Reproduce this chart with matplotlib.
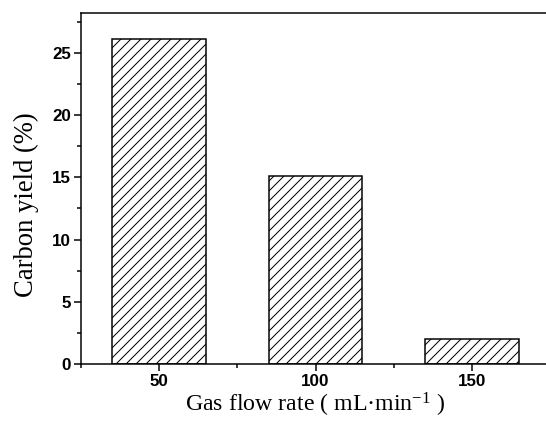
import matplotlib
matplotlib.use("Agg")
import matplotlib.pyplot as plt
from matplotlib.ticker import MultipleLocator, FixedLocator

categories = ["50", "100", "150"]
carbon_yield = [26.1, 15.1, 2.0]
y_ticks = [0, 5, 10, 15, 20, 25]

DPI = 120
plt.rcParams['hatch.linewidth'] = 0.6
plt.rcParams['mathtext.fontset'] = 'custom'
plt.rcParams['mathtext.rm'] = 'Liberation Serif'
plt.rcParams['mathtext.it'] = 'Liberation Serif:italic'

fig = plt.figure(figsize=(546 / DPI, 421 / DPI), dpi=DPI)
ax = fig.add_axes([81 / 546, 57 / 421, (550 - 81) / 546, 351 / 421])

x = list(range(1, len(categories) + 1))
ax.bar(x, carbon_yield, width=0.6, color='white', edgecolor='black',
       linewidth=0.9, hatch='////')

ax.set_xlim(0.5, 3.5)
ax.set_ylim(0, 28.2)
ax.set_xticks(x)
ax.set_xticklabels(categories)
ax.xaxis.set_minor_locator(FixedLocator([0.5, 1.5, 2.5, 3.5]))
ax.set_yticks(y_ticks)
ax.yaxis.set_minor_locator(MultipleLocator(2.5))

for s in ax.spines.values():
    s.set_linewidth(0.9)

ax.tick_params(which='major', direction='out', length=4, width=0.9, pad=2,
               labelsize=10.2, colors='black')
ax.tick_params(which='minor', direction='out', length=2.2, width=0.9)
for lab in ax.get_xticklabels() + ax.get_yticklabels():
    lab.set_fontfamily('Liberation Sans')
    lab.set_fontweight('bold')

ax.set_xlabel('Gas flow rate ( mL·min$^{\\mathregular{-1}}$ )',
              fontfamily='Liberation Serif', fontsize=14.3, labelpad=1)
ax.set_ylabel('Carbon yield (%)', fontfamily='Liberation Serif', fontsize=16)
ax.yaxis.set_label_coords(-0.089, 0.453)

fig.savefig('out.png', dpi=DPI)
